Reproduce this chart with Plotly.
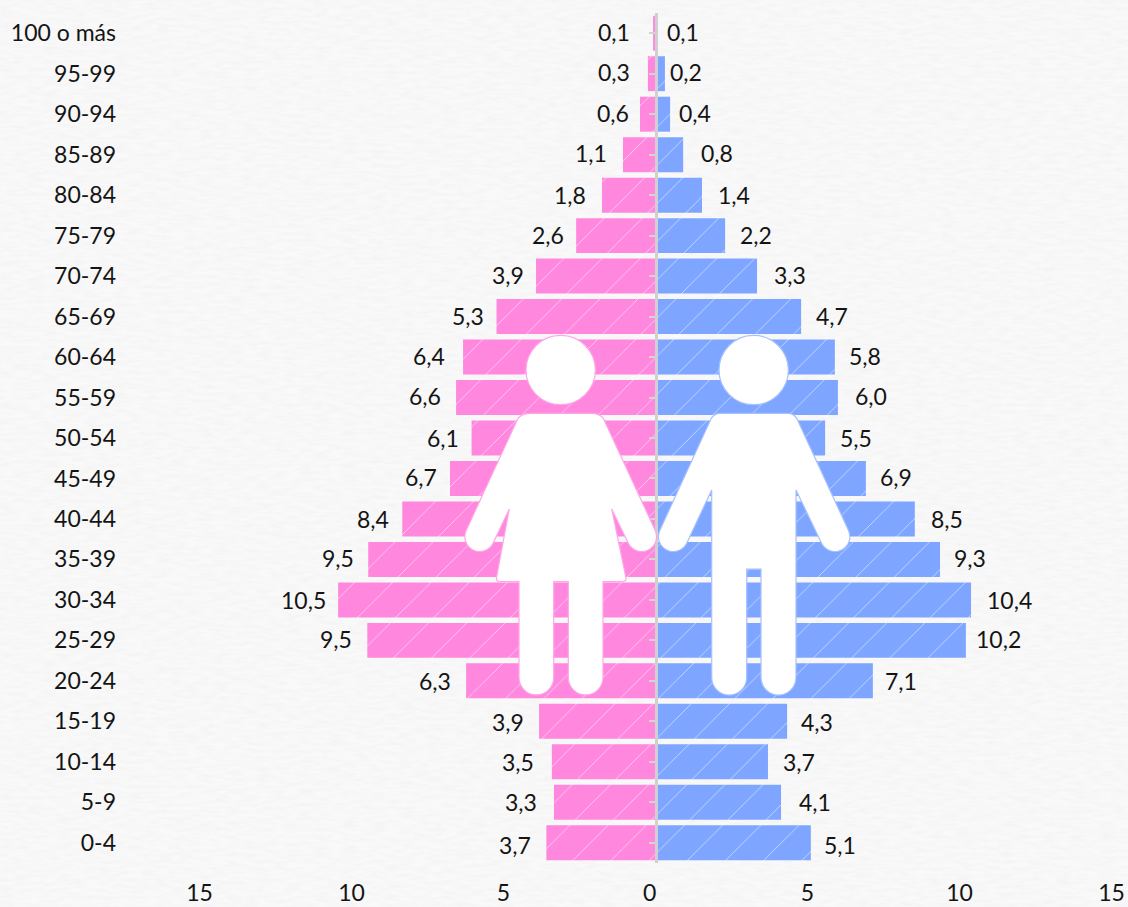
import base64
import plotly.graph_objects as go

age_groups = ["100 o más", "95-99", "90-94", "85-89", "80-84", "75-79", "70-74", "65-69", "60-64", "55-59",
              "50-54", "45-49", "40-44", "35-39", "30-34", "25-29", "20-24", "15-19", "10-14", "5-9", "0-4"]
women_values = [0.08, 0.25, 0.51, 1.07, 1.76, 2.61, 3.93, 5.23, 6.33, 6.56, 6.05, 6.76, 8.33, 9.45, 10.44, 9.48,
                6.23, 3.83, 3.41, 3.34, 3.59]
men_values = [0.08, 0.31, 0.48, 0.91, 1.53, 2.29, 3.34, 4.79, 5.90, 6.00, 5.58, 6.92, 8.53, 9.36, 10.38, 10.21,
              7.15, 4.33, 3.70, 4.13, 5.11]
women_labels = ["0,1", "0,3", "0,6", "1,1", "1,8", "2,6", "3,9", "5,3", "6,4", "6,6", "6,1", "6,7", "8,4", "9,5",
                "10,5", "9,5", "6,3", "3,9", "3,5", "3,3", "3,7"]
men_labels = ["0,1", "0,2", "0,4", "0,8", "1,4", "2,2", "3,3", "4,7", "5,8", "6,0", "5,5", "6,9", "8,5", "9,3",
              "10,4", "10,2", "7,1", "4,3", "3,7", "4,1", "5,1"]
women_label_shift = [-39, -34, -27, -32, -32, -28, -28, -29, -34, -31, -29, -29, -29, -30, -35, -31, -31, -31, -34, -33, -31]
men_label_shift = [25, 21, 25, 34, 32, 31, 33, 31, 30, 33, 31, 30, 32, 30, 38, 33, 28, 30, 31, 34, 29]
label_yshift = [1, 2, 1, 2, 0, 1, 1, 1, 1, 2, 0, 1, 0, 1, 0, 1, 0, -1, 0, 0, -2]
x_tick_vals = [-15, -10, -5, 0, 5, 10, 15]
x_tick_text = ["15", "10", "5", "0\u00a0\u00a0", "5", "10", "15"]

PINK, BLUE = "#ff87de", "#7ea5ff"
W, H = 1128, 907
ML, MR, MT, MB = 122, 0, 12.75, 43.75
PW, PH = W - ML - MR, H - MT - MB
PX_PER_UNIT = 30.4
ZERO_PX = 655.5
FONT = "Lato"


def data_uri(svg):
    return "data:image/svg+xml;base64," + base64.b64encode(svg.encode()).decode()


paper_svg = f"""<svg xmlns="http://www.w3.org/2000/svg" width="{W}" height="{H}" viewBox="0 0 {W} {H}">
<filter id="p" x="0" y="0" width="100%" height="100%">
<feTurbulence type="fractalNoise" baseFrequency="0.07 0.28" numOctaves="3" seed="7"/>
<feColorMatrix type="matrix" values="0 0 0 0 0.84  0 0 0 0 0.84  0 0 0 0 0.84  0.8 0 0 0 -0.27"/>
</filter>
<rect width="{W}" height="{H}" fill="#f9f9f9"/>
<rect width="{W}" height="{H}" filter="url(#p)"/>
</svg>"""

woman = ("M531 413.3H591Q599.5 413.3 603.3 418.3L655 530A14.5 14.5 0 0 1 628.3 543.3L611.7 509L625.7 576.7"
         "Q627 581.7 622 581.7H603V677.7A17.3 17.3 0 0 1 568.3 677.7V581.7H553.7V677.7A17.3 17.3 0 0 1 519 677.7"
         "V581.7H500Q495.5 581.7 496.7 576.7L509.3 509L493.1 543.3A14.5 14.5 0 0 1 466.4 530L518 418.3"
         "Q522 413.3 531 413.3Z")
man = ("M720 413.3H788Q793.5 413.3 796.7 418.3L848.3 530A14.5 14.5 0 0 1 821.6 543.3L796 490V677.7"
       "A17.5 17.5 0 0 1 761 677.7V569.3H746.7V677.7A17.5 17.5 0 0 1 711.7 677.7V490L686.7 543.3"
       "A14.5 14.5 0 0 1 660 530L711.3 418.3Q714.5 413.3 720 413.3Z")
figures_svg = f"""<svg xmlns="http://www.w3.org/2000/svg" width="{W}" height="{H}" viewBox="0 0 {W} {H}">
<g fill="#ffffff" stroke="#ffa6e8" stroke-width="1.2"><circle cx="560.7" cy="370" r="34.7"/><path d="{woman}"/></g>
<g fill="#ffffff" stroke="#a6c1ff" stroke-width="1.2"><circle cx="753.7" cy="370" r="34.7"/><path d="{man}"/></g>
</svg>"""

x_min = -(ZERO_PX - ML) / PX_PER_UNIT
x_max = (W - MR - ZERO_PX) / PX_PER_UNIT
zero_pos = (ZERO_PX + 0.7 - ML) / PW


def bar_marker(color):
    return dict(color=color, line_width=0,
                pattern=dict(shape="/", size=27, solidity=0.035, fgcolor="#ffffff", fgopacity=0.55,
                             bgcolor=color, fillmode="replace"))


fig = go.Figure()
fig.add_bar(y=age_groups, x=[-v for v in women_values], orientation="h", marker=bar_marker(PINK), name="Mujeres")
fig.add_bar(y=age_groups, x=men_values, orientation="h", marker=bar_marker(BLUE), name="Hombres")
fig.add_scatter(y=age_groups, x=[0] * len(age_groups), yaxis="y2", mode="markers", marker=dict(opacity=0),
                showlegend=False, hoverinfo="skip")

font = dict(family=FONT, size=23, color="#141414")
annotations = []
for age, v, lab, sh, ys in zip(age_groups, women_values, women_labels, women_label_shift, label_yshift):
    annotations.append(dict(x=-v, y=age, text=lab, xshift=sh, yshift=ys, showarrow=False, xanchor="center", font=font))
for age, v, lab, sh, ys in zip(age_groups, men_values, men_labels, men_label_shift, label_yshift):
    annotations.append(dict(x=v, y=age, text=lab, xshift=sh, yshift=ys, showarrow=False, xanchor="center", font=font))

full = dict(xref="paper", yref="paper", x=-ML / PW, y=1 + MT / PH, sizex=W / PW, sizey=H / PH,
            xanchor="left", yanchor="top", sizing="stretch")
y_range = [len(age_groups) - 0.5, -0.5]

fig.update_layout(
    width=W, height=H, autosize=False, showlegend=False, barmode="overlay", bargap=0.136,
    margin=dict(l=ML, r=MR, t=MT, b=MB, pad=0, autoexpand=False),
    paper_bgcolor="#f7f7f7", plot_bgcolor="rgba(0,0,0,0)", font=font,
    xaxis=dict(range=[x_min, x_max], tickvals=x_tick_vals, ticktext=x_tick_text, showgrid=False, zeroline=False,
               showline=False, ticks="", tickfont=font, ticklabelstandoff=14, automargin=False),
    yaxis=dict(type="category", categoryorder="array", categoryarray=age_groups, range=y_range, showgrid=False,
               zeroline=False, showline=False, ticks="", tickfont=font, ticklabelstandoff=5, automargin=False),
    yaxis2=dict(type="category", categoryorder="array", categoryarray=age_groups, range=y_range,
                overlaying="y", anchor="free", position=zero_pos, side="left", showline=True,
                linecolor="#d0d0d0", linewidth=2.5, ticks="outside", ticklen=6, tickwidth=1.5, tickcolor="#d4d4d4",
                showticklabels=False, showgrid=False, zeroline=False, automargin=False),
    annotations=annotations,
    images=[dict(source=data_uri(paper_svg), layer="below", **full),
            dict(source=data_uri(figures_svg), layer="above", **full)],
)
fig.write_html("out.html", config=dict(displayModeBar=False),
               post_script="document.body.style.margin='0';document.body.style.overflow='hidden';")
